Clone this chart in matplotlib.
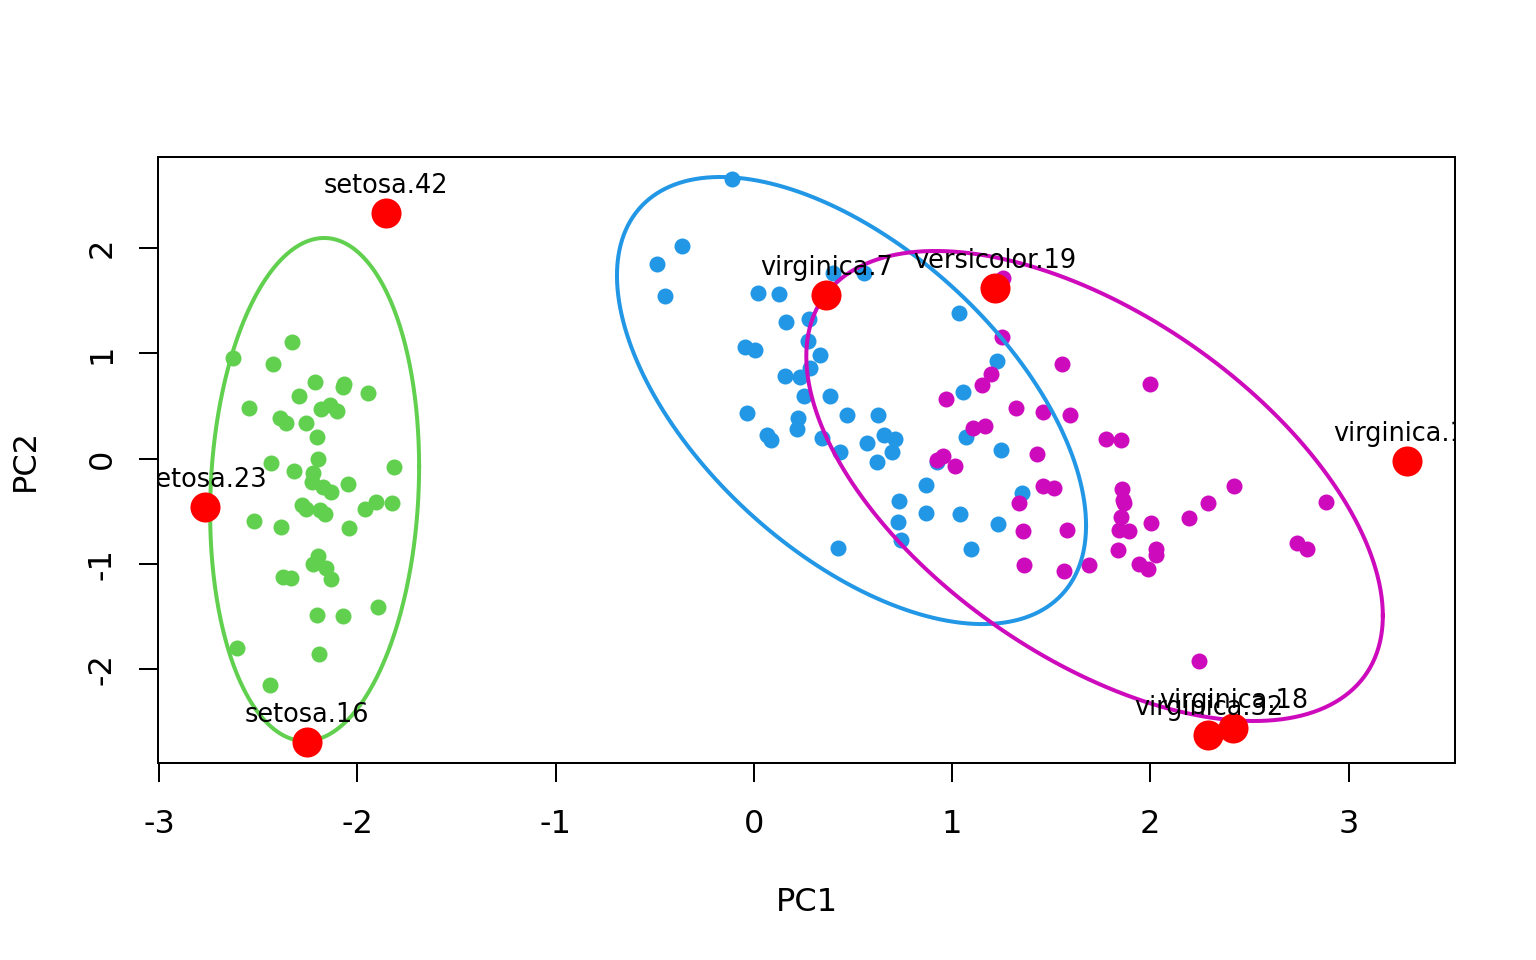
import numpy as np
import matplotlib.pyplot as plt

# PCA scores (PC1, PC2)
setosa_pc1 = [-2.328, -2.626, -2.424, -2.212, -2.071, -2.066, -1.945, -2.293, -2.545, -2.182,
              -2.137, -2.102, -2.389, -2.359, -2.258, -2.203, -2.434, -2.198, -2.318, -1.814,
              -2.223, -2.228, -2.172, -2.132, -2.046, -2.278, -2.258, -2.187, -2.162, -1.961,
              -1.906, -1.824, -2.520, -2.384, -2.041, -2.198, -2.223, -2.157, -2.132, -2.374,
              -2.334, -2.203, -2.071, -1.895, -2.606, -2.193, -2.439]
setosa_pc2 = [1.107, 0.955, 0.898, 0.727, 0.679, 0.708, 0.622, 0.594, 0.480, 0.470,
              0.508, 0.451, 0.385, 0.337, 0.337, 0.204, -0.043, -0.005, -0.119, -0.081,
              -0.138, -0.223, -0.271, -0.318, -0.242, -0.442, -0.480, -0.489, -0.527, -0.480,
              -0.413, -0.423, -0.594, -0.651, -0.660, -0.926, -1.002, -1.040, -1.145, -1.126,
              -1.135, -1.487, -1.496, -1.411, -1.800, -1.857, -2.152]

versicolor_pc1 = [-0.108, -0.361, -0.487, -0.447, 0.023, 0.129, 0.401, 0.557, 0.164, 0.280,
                  -0.043, 0.008, 0.275, 0.335, 0.285, 0.159, 0.235, 0.255, 0.386, -0.033,
                  0.225, 0.219, 0.472, 0.628, 0.068, 0.088, 0.346, 0.436, 0.573, 0.658,
                  0.714, 0.699, 0.623, 0.926, 0.870, 0.734, 0.870, 0.729, 0.744, 0.426,
                  1.042, 1.037, 1.229, 1.057, 1.072, 1.249, 1.355, 1.234, 1.097]
versicolor_pc2 = [2.656, 2.019, 1.848, 1.544, 1.572, 1.563, 1.762, 1.762, 1.297, 1.325,
                  1.059, 1.031, 1.116, 0.983, 0.860, 0.784, 0.774, 0.594, 0.594, 0.432,
                  0.385, 0.280, 0.413, 0.413, 0.223, 0.176, 0.195, 0.062, 0.147, 0.223,
                  0.185, 0.062, -0.033, -0.033, -0.252, -0.404, -0.518, -0.603, -0.774, -0.850,
                  -0.527, 1.382, 0.926, 0.632, 0.204, 0.081, -0.328, -0.622, -0.860]

virginica_pc1 = [1.259, 1.254, 1.556, 1.198, 1.153, 0.971, 1.324, 1.461, 1.597, 1.107,
                 1.168, 1.430, 0.926, 0.956, 1.017, 1.779, 1.854, 1.340, 1.461, 1.516,
                 1.360, 1.582, 1.365, 1.567, 1.693, 2.000, 1.859, 1.864, 1.869, 1.854,
                 1.844, 1.894, 2.006, 2.197, 2.293, 2.424, 2.884, 1.839, 2.031, 2.031,
                 1.945, 1.990, 2.742, 2.788, 2.248]
virginica_pc2 = [1.715, 1.154, 0.898, 0.803, 0.698, 0.565, 0.480, 0.442, 0.413, 0.290,
                 0.309, 0.043, -0.014, 0.024, -0.071, 0.185, 0.176, -0.423, -0.261, -0.280,
                 -0.689, -0.679, -1.012, -1.069, -1.012, 0.708, -0.290, -0.394, -0.423, -0.556,
                 -0.679, -0.689, -0.613, -0.565, -0.423, -0.261, -0.413, -0.869, -0.860, -0.917,
                 -1.002, -1.050, -0.803, -0.860, -1.924]

# highlighted observations
out_labels = ['setosa.42', 'setosa.23', 'setosa.16', 'virginica.7', 'versicolor.19',
              'virginica.19', 'virginica.32', 'virginica.18']
out_pc1 = [-1.854, -2.767, -2.253, 0.366, 1.218, 3.297, 2.293, 2.419]
out_pc2 = [2.333, -0.461, -2.689, 1.553, 1.620, -0.024, -2.627, -2.561]

# ellipses: centre, half extents along PC1 / PC2, correlation
ell_cx = [-2.215, 0.493, 1.719]
ell_cy = [-0.2945, 0.551, -0.261]
ell_wx = [0.527, 1.183, 1.454]
ell_wy = [2.390, 2.124, 2.233]
ell_r = [0.091, -0.559, -0.552]

colors = ['#61D04F', '#2297E6', '#CD0BBC']

plt.rcParams['font.family'] = ['DejaVu Sans']
plt.rcParams['axes.unicode_minus'] = False
fig = plt.figure(figsize=(8, 5), dpi=192)
ax = fig.add_axes([158 / 1536, 1 - 763 / 960, 1297 / 1536, 606 / 960])

groups = [(setosa_pc1, setosa_pc2), (versicolor_pc1, versicolor_pc2),
          (virginica_pc1, virginica_pc2)]
for (px, py), c in zip(groups, colors):
    ax.scatter(px, py, s=36, color=c, linewidths=0, zorder=2)

t = np.linspace(0, 2 * np.pi, 400)
for i, c in enumerate(colors):
    cov = np.array([[ell_wx[i] ** 2, ell_r[i] * ell_wx[i] * ell_wy[i]],
                    [ell_r[i] * ell_wx[i] * ell_wy[i], ell_wy[i] ** 2]])
    L = np.linalg.cholesky(cov)
    pts = L @ np.vstack([np.cos(t), np.sin(t)])
    ax.plot(ell_cx[i] + pts[0], ell_cy[i] + pts[1], color=c, lw=1.5, zorder=3)

ax.scatter(out_pc1, out_pc2, s=127, color='red', linewidths=0, zorder=4)
for lab, x, y in zip(out_labels, out_pc1, out_pc2):
    ax.annotate(lab, (x, y), xytext=(0, 7.5), textcoords='offset points',
                ha='center', va='baseline', fontsize=9.6, zorder=5,
                annotation_clip=False, clip_on=True)

ax.set_xlim(-3.005, 3.537)
ax.set_ylim(-2.893, 2.865)
ax.set_xticks([-3, -2, -1, 0, 1, 2, 3])
ax.set_yticks([-2, -1, 0, 1, 2])
ax.tick_params(direction='out', length=7.1, width=0.75, labelsize=12)
ax.tick_params(axis='x', pad=10)
ax.tick_params(axis='y', pad=8)
for lab in ax.get_yticklabels():
    lab.set_rotation(90)
    lab.set_va('center')
for sp in ax.spines.values():
    sp.set_linewidth(0.75)

ax.set_xlabel('PC1', fontsize=12)
ax.set_ylabel('PC2', fontsize=12)
ax.xaxis.set_label_coords(0.5, -0.231)
ax.xaxis.label.set_va('center')
ax.yaxis.set_label_coords(-0.1025, 0.5)
ax.yaxis.label.set_va('center')

fig.savefig('out.png', dpi=192)
